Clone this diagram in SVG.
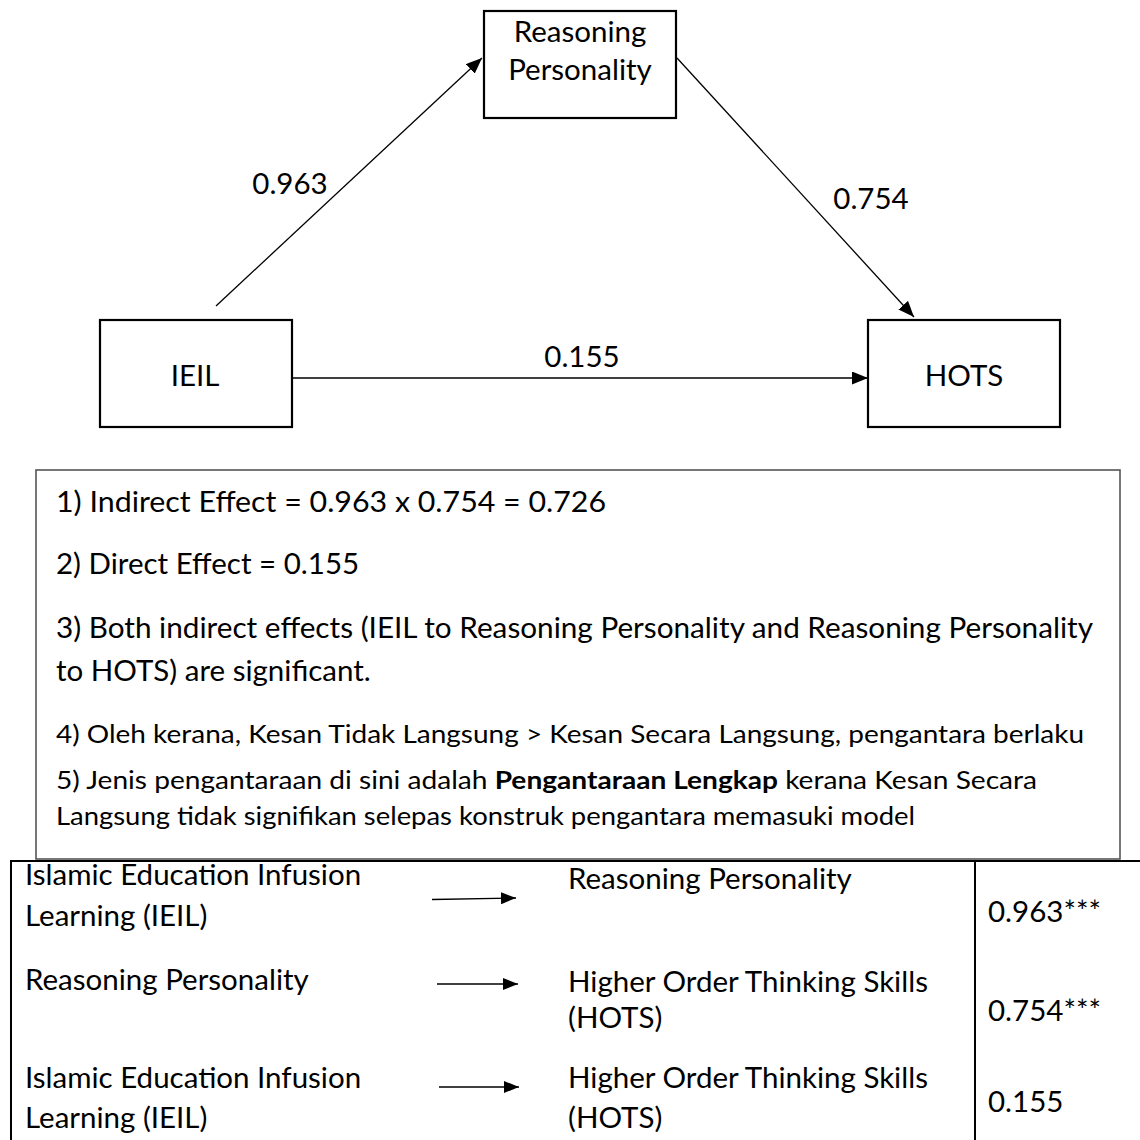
<svg xmlns="http://www.w3.org/2000/svg" width="1140" height="1140" viewBox="0 0 1140 1140">
<style>
  text { font-family: Lato, "Open Sans", "Liberation Sans", sans-serif; fill: #000; }
  .lbl { font-size: 29.5px; }
  .note { font-size: 29.5px; }
  .small { font-size: 25px; }
  .node rect { fill: #fff; stroke: #000; stroke-width: 2.2; }
  .conn line { stroke: #000; stroke-width: 1.3; fill: none; }
  .tbl line { stroke: #000; stroke-width: 2; }
  .mid { text-anchor: middle; }
</style>
<defs>
  <marker id="ah" markerUnits="userSpaceOnUse" markerWidth="16" markerHeight="13" refX="16" refY="6.5" orient="auto">
    <path d="M0,0 L16,6.5 L0,13 z" fill="#000"/>
  </marker>
  <marker id="ahs" markerUnits="userSpaceOnUse" markerWidth="15" markerHeight="12" refX="15" refY="6" orient="auto">
    <path d="M0,0 L15,6 L0,12 z" fill="#000"/>
  </marker>
</defs>
<rect width="1140" height="1140" fill="#fff"/>

<g id="connectors" class="conn">
  <line x1="216" y1="306" x2="482" y2="58" marker-end="url(#ah)"/>
  <line x1="677" y1="58" x2="914" y2="317" marker-end="url(#ah)"/>
  <line x1="292" y1="378" x2="868" y2="378" marker-end="url(#ah)"/>
</g>

<g id="node-reasoning" class="node">
  <rect x="484" y="11" width="192" height="107"/>
  <text class="lbl mid" x="580" y="42">Reasoning</text>
  <text class="lbl mid" x="580" y="80">Personality</text>
</g>
<g id="node-ieil" class="node">
  <rect x="100" y="320" width="192" height="107"/>
  <text class="lbl mid" x="195" y="386">IEIL</text>
</g>
<g id="node-hots" class="node">
  <rect x="868" y="320" width="192" height="107"/>
  <text class="lbl mid" x="964" y="386">HOTS</text>
</g>

<g id="edge-labels">
  <text class="lbl mid" x="290" y="194">0.963</text>
  <text class="lbl mid" x="871" y="209">0.754</text>
  <text class="lbl mid" x="582" y="367">0.155</text>
</g>

<g id="table" class="tbl">
  <line x1="10" y1="861" x2="1140" y2="861"/>
  <line x1="11" y1="860" x2="11" y2="1140"/>
  <line x1="975" y1="860" x2="975" y2="1140"/>
</g>

<g id="notes">
  <rect x="36" y="470" width="1084" height="389" fill="#fff" stroke="#555" stroke-width="1.6"/>
  <text class="note" x="56" y="512" textLength="550" lengthAdjust="spacingAndGlyphs">1) Indirect Effect = 0.963 x 0.754 = 0.726</text>
  <text class="note" x="56" y="574">2) Direct Effect = 0.155</text>
  <text class="note" x="56" y="638" textLength="1037" lengthAdjust="spacingAndGlyphs">3) Both indirect effects (IEIL to Reasoning Personality and Reasoning Personality</text>
  <text class="note" x="56" y="681">to HOTS) are significant.</text>
  <text class="small" x="56" y="743" textLength="1028" lengthAdjust="spacingAndGlyphs">4) Oleh kerana, Kesan Tidak Langsung &gt; Kesan Secara Langsung, pengantara berlaku</text>
  <text class="small" x="56" y="789" textLength="981" lengthAdjust="spacingAndGlyphs">5) Jenis pengantaraan di sini adalah <tspan font-weight="bold">Pengantaraan Lengkap</tspan> kerana Kesan Secara</text>
  <text class="small" x="56" y="825" textLength="859" lengthAdjust="spacingAndGlyphs">Langsung tidak signifikan selepas konstruk pengantara memasuki model</text>
</g>

<g id="table-rows">
  <text class="lbl" x="25" y="885">Islamic Education Infusion</text>
  <text class="lbl" x="25" y="926">Learning (IEIL)</text>
  <text class="lbl" x="568" y="889">Reasoning Personality</text>
  <text class="lbl" x="988" y="922">0.963***</text>

  <text class="lbl" x="25" y="990">Reasoning Personality</text>
  <text class="lbl" x="568" y="992">Higher Order Thinking Skills</text>
  <text class="lbl" x="568" y="1028">(HOTS)</text>
  <text class="lbl" x="988" y="1021">0.754***</text>

  <text class="lbl" x="25" y="1088">Islamic Education Infusion</text>
  <text class="lbl" x="25" y="1128">Learning (IEIL)</text>
  <text class="lbl" x="568" y="1088">Higher Order Thinking Skills</text>
  <text class="lbl" x="568" y="1128">(HOTS)</text>
  <text class="lbl" x="988" y="1112">0.155</text>
</g>

<g id="table-arrows" class="conn">
  <line x1="432" y1="899.5" x2="516" y2="898" marker-end="url(#ahs)"/>
  <line x1="437" y1="984" x2="518" y2="984" marker-end="url(#ahs)"/>
  <line x1="439" y1="1087" x2="519" y2="1087" marker-end="url(#ahs)"/>
</g>
</svg>
